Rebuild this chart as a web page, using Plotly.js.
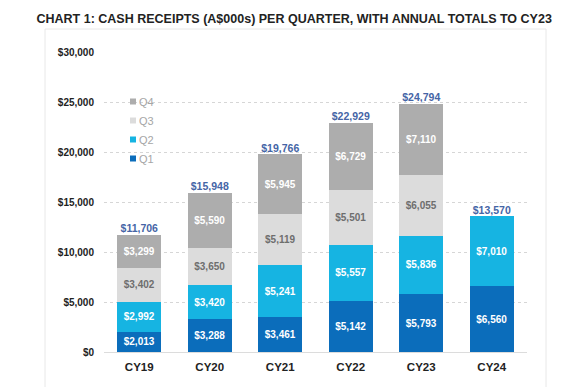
<!DOCTYPE html>
<html>
<head>
<meta charset="utf-8">
<script src="https://cdn.plot.ly/plotly-3.0.1.min.js"></script>
<style>
  html, body { margin: 0; padding: 0; background: #ffffff; }
  #chart { width: 574px; height: 387px; }
</style>
</head>
<body>
<div id="chart"></div>
<script>
const categories = ["CY19", "CY20", "CY21", "CY22", "CY23", "CY24"];
const q1 = [2013, 3288, 3461, 5142, 5793, 6560];
const q2 = [2992, 3420, 5241, 5557, 5836, 7010];
const q3 = [3402, 3650, 5119, 5501, 6055, null];
const q4 = [3299, 5590, 5945, 6729, 7110, null];
const totals = [11706, 15948, 19766, 22929, 24794, 13570];
const yTicks = [0, 5000, 10000, 15000, 20000, 25000, 30000];
const yTickLabels = ["$0", "$5,000", "$10,000", "$15,000", "$20,000", "$25,000", "$30,000"];
const titleText = "CHART 1: CASH RECEIPTS (A$000s) PER QUARTER, WITH ANNUAL TOTALS TO CY23";

const FONT = "Liberation Sans, Arial, sans-serif";

function barTrace(name, values, color, textColor) {
  return {
    type: "bar",
    name: name,
    x: categories,
    y: values,
    marker: { color: color },
    texttemplate: "$%{y:,}",
    textposition: "inside",
    insidetextanchor: "middle",
    textangle: 0,
    constraintext: "none",
    insidetextfont: { family: FONT, size: 10, color: textColor, weight: "bold" },
    hoverinfo: "skip"
  };
}

const traces = [
  barTrace("Q1", q1, "#0b6dbb", "#ffffff"),
  barTrace("Q2", q2, "#16b4e2", "#ffffff"),
  barTrace("Q3", q3, "#dcdcdc", "#6e6e6e"),
  barTrace("Q4", q4, "#adadad", "#ffffff"),
  {
    type: "scatter",
    mode: "text",
    x: categories,
    y: totals,
    texttemplate: "$%{y:,}",
    textposition: "top center",
    textfont: { family: FONT, size: 10.5, color: "#4565a6", weight: "bold" },
    showlegend: false,
    hoverinfo: "skip",
    cliponaxis: false
  }
];

const L = 104, R = 47, T = 52, B = 35;
const W = 574, H = 387;
const pw = W - L - R, ph = H - T - B;
function px2x(px) { return (px - L) / pw; }
function px2y(py) { return (H - B - py) / ph; }

const layout = {
  width: W,
  height: H,
  margin: { l: L, r: R, t: T, b: B, pad: 0 },
  paper_bgcolor: "#ffffff",
  plot_bgcolor: "#ffffff",
  barmode: "stack",
  bargap: 0.37,
  font: { family: FONT, color: "#222222" },
  title: {
    text: titleText,
    font: { family: FONT, size: 12.5, color: "#222222", weight: "bold" },
    x: 36.5 / W,
    xanchor: "left",
    xref: "container",
    y: 1 - 19 / H,
    yref: "container",
    yanchor: "middle"
  },
  xaxis: {
    type: "category",
    showgrid: false,
    showline: true,
    linecolor: "#dcdcdc",
    linewidth: 1,
    ticks: "",
    tickfont: { family: FONT, size: 11.5, color: "#222222", weight: "bold" },
    ticklabelstandoff: 4,
    fixedrange: true
  },
  yaxis: {
    range: [0, 30000],
    tickmode: "array",
    tickvals: yTicks,
    ticktext: yTickLabels,
    showgrid: true,
    gridcolor: "#d6d6d6",
    griddash: "3px,3px",
    gridwidth: 1,
    zeroline: false,
    showline: false,
    ticks: "",
    ticklabelstandoff: 9,
    tickfont: { family: FONT, size: 10, color: "#222222", weight: "bold" },
    fixedrange: true
  },
  showlegend: true,
  legend: {
    traceorder: "reversed",
    x: px2x(113),
    xanchor: "left",
    y: px2y(87),
    yanchor: "top",
    font: { family: FONT, size: 11, color: "#a6a6a6" },
    bgcolor: "rgba(0,0,0,0)",
    borderwidth: 0,
    itemclick: false,
    itemdoubleclick: false
  },
  shapes: [
    {
      type: "rect",
      xref: "paper", yref: "paper",
      x0: px2x(45), x1: px2x(546),
      y0: px2y(392), y1: px2y(29),
      line: { color: "#e8e8e8", width: 1 },
      fillcolor: "rgba(0,0,0,0)",
      layer: "below"
    }
  ]
};

Plotly.newPlot("chart", traces, layout, { displayModeBar: false, staticPlot: true }).then(function () {
  document.querySelectorAll(".legend .traces").forEach(function (g) {
    g.querySelectorAll(".legendpoints path").forEach(function (p) {
      p.setAttribute("d", "M3,3H-3V-3H3Z");
    });
    var t = g.querySelector("text.legendtext");
    if (t) { t.setAttribute("x", "26"); }
  });
});
</script>
</body>
</html>
